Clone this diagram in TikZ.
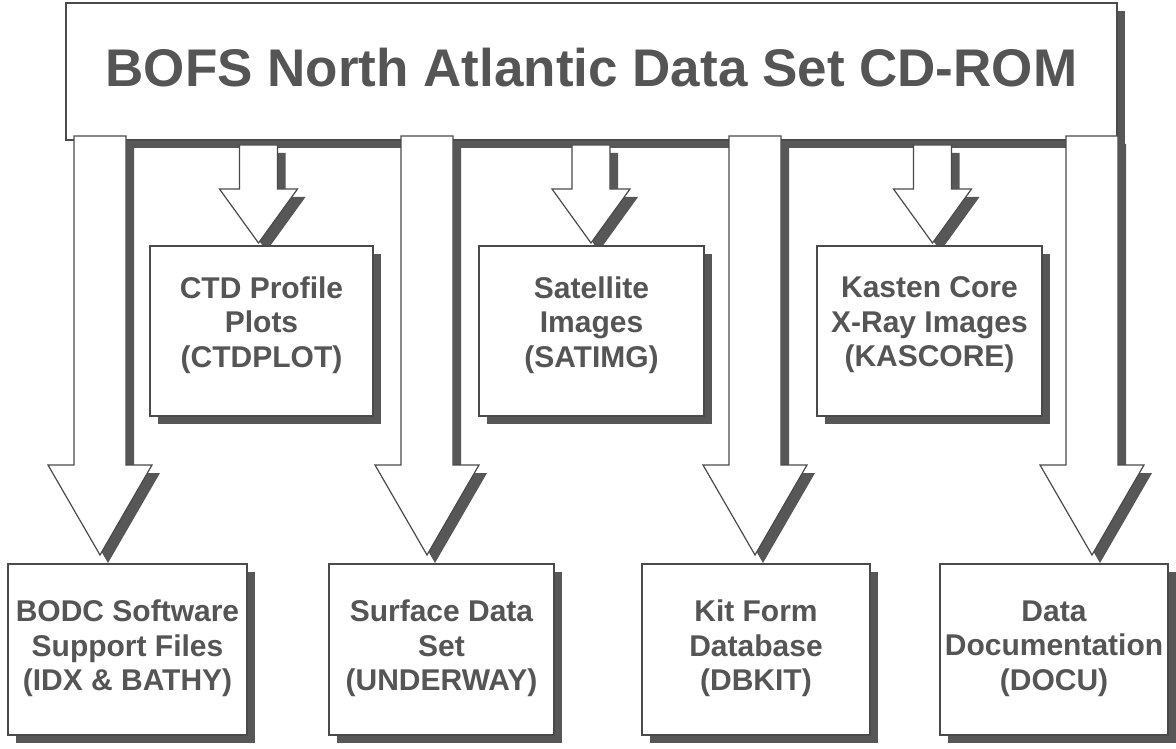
\documentclass[tikz,border=0pt]{standalone}
\usepackage{fontspec}
\setmainfont{Liberation Sans}
\usetikzlibrary{shadows,calc}
\definecolor{ink}{HTML}{555555}
\definecolor{edge}{HTML}{4A4A4A}
\definecolor{shade}{HTML}{575757}
\tikzset{
  shd/.style={drop shadow={opacity=1,shadow xshift=8pt,shadow yshift=-8pt,fill=shade}},
  boxstyle/.style={draw=edge,line width=1.2pt,fill=white,shd,inner sep=0pt},
  midbox/.style={boxstyle,minimum height=170pt},
  botbox/.style={boxstyle,minimum height=171pt},
  txt/.style={text=ink,font=\fontsize{30}{34.5}\selectfont\bfseries,align=center,inner sep=0pt},
  blk/.style={draw=edge,line width=1.2pt,fill=white,shd,line join=miter},
}
\newcommand\blockarrow[6]{% cx ytop yhead ytip shafthalf headhalf
  \pgfmathsetmacro\baXa{#1-#5}\pgfmathsetmacro\baXb{#1+#5}%
  \pgfmathsetmacro\baXc{#1-#6}\pgfmathsetmacro\baXd{#1+#6}%
  \path[blk] (\baXa,-#2) -- (\baXb,-#2) -- (\baXb,-#3) -- (\baXd,-#3) -- (#1,-#4)
     -- (\baXc,-#3) -- (\baXa,-#3) -- cycle;
}
\begin{document}
\begin{tikzpicture}[x=1pt,y=1pt]
\useasboundingbox (0,0) rectangle (1176,-749);
\fill[white] (0,0) rectangle (1176,-749);
% title
\node[boxstyle,minimum width=1051pt,minimum height=137pt] (title) at (591.5,-71.5) {};
\node[text=ink,font=\fontsize{53}{60}\selectfont\bfseries,anchor=base,inner sep=0pt] (titletext) at (591.5,-87) {BOFS North Atlantic Data Set CD-ROM};
% small arrows
\blockarrow{258.5}{145}{189}{243}{19}{39}
\blockarrow{591}{145}{189}{243}{19}{39}
\blockarrow{932.5}{145}{189}{243}{19}{39}
% big arrows
\blockarrow{100}{136}{465}{555}{26}{52}
\blockarrow{427}{136}{465}{555}{26}{52}
\blockarrow{755}{136}{465}{555}{26}{52}
\blockarrow{1092}{136}{465}{555}{26}{52}
% middle boxes
\node[midbox,minimum width=223pt] (ctd) at (261.5,-331) {};
\node[txt] (ctdt) at (261.5,-325) {CTD Profile\\Plots\\(CTDPLOT)};
\node[midbox,minimum width=225pt] (sat) at (591.5,-331) {};
\node[txt] (satt) at (591.5,-325) {Satellite\\Images\\(SATIMG)};
\node[midbox,minimum width=225pt] (kas) at (929.5,-331) {};
\node[txt] (kast) at (929.5,-325) {Kasten Core\\X-Ray Images\\(KASCORE)};
% bottom boxes
\node[botbox,minimum width=239pt] (bodc) at (127.5,-649.5) {};
\node[txt] (bodct) at (127.5,-648.5) {BODC Software\\Support Files\\(IDX \& BATHY)};
\node[botbox,minimum width=225pt] (surf) at (441.5,-649.5) {};
\node[txt] (surft) at (441.5,-648.5) {Surface Data\\Set\\(UNDERWAY)};
\node[botbox,minimum width=228pt] (kit) at (756,-649.5) {};
\node[txt] (kitt) at (756,-648.5) {Kit Form\\Database\\(DBKIT)};
\node[botbox,minimum width=228pt] (docu) at (1054,-649.5) {};
\node[txt] (docut) at (1054,-648.5) {Data\\Documentation\\(DOCU)};
\end{tikzpicture}
\end{document}
